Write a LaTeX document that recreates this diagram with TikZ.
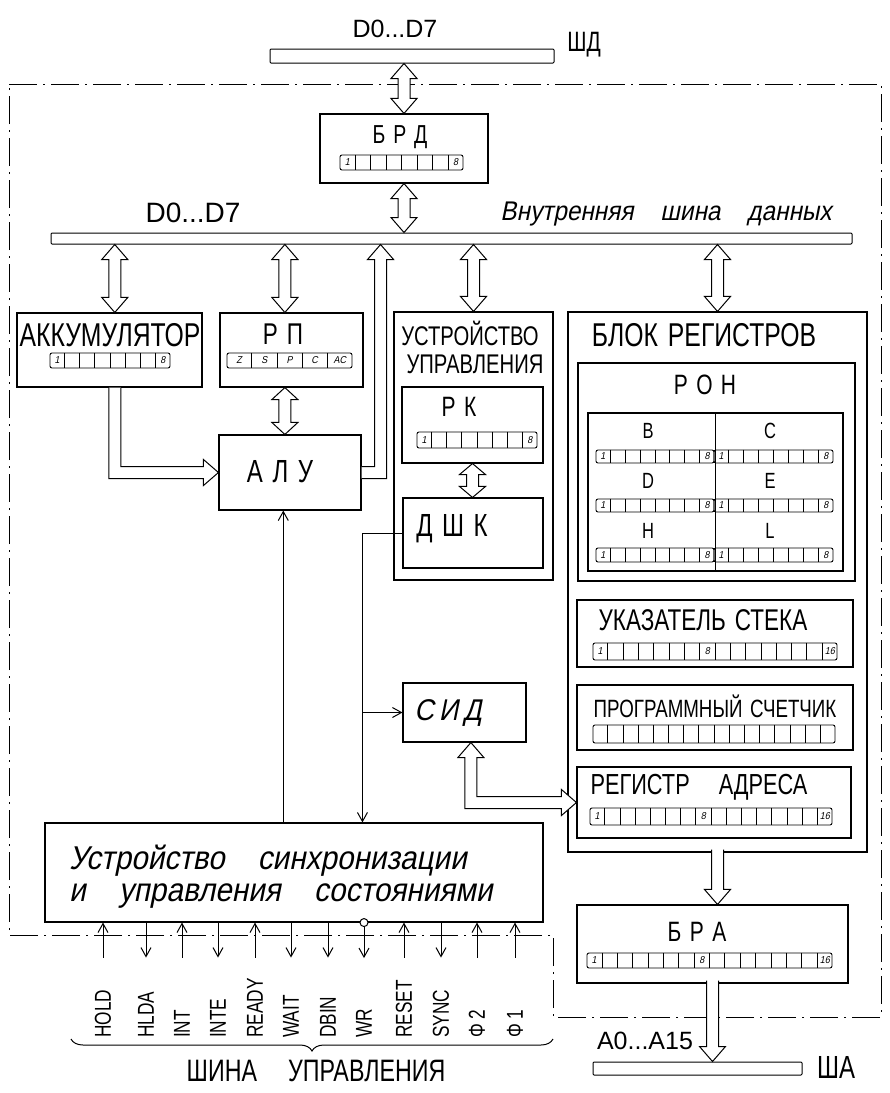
\documentclass[tikz,border=0pt]{standalone}
\usepackage{fontspec}
\setmainfont{Liberation Sans}
\newfontfamily\gost[FakeStretch=0.75]{Liberation Sans}
\newfontfamily\gostit[FakeStretch=0.9,FakeSlant=0.2]{Liberation Sans}
\usetikzlibrary{arrows.meta,calc,decorations.pathreplacing}

\newcommand{\ls}{\hspace{0.3em}}

% hollow double headed arrow, vertical (top, bottom)
\newcommand{\hollowud}[3][15pt]{%
  \draw[hollow] let \p1=(#2), \p2=(#3) in
    (\x1,\y1) -- (\x1+13pt,\y1-#1) -- (\x1+6pt,\y1-#1) -- (\x1+6pt,\y2+#1)
    -- (\x1+13pt,\y2+#1) -- (\x1,\y2) -- (\x1-13pt,\y2+#1) -- (\x1-6pt,\y2+#1)
    -- (\x1-6pt,\y1-#1) -- (\x1-13pt,\y1-#1) -- cycle;}

% hollow arrow going down, open at the top
\newcommand{\hollowdn}[2]{%
  \draw[hollow] let \p1=(#1), \p2=(#2) in
    (\x1-6pt,\y1+3pt) -- (\x1-6pt,\y2+15pt) -- (\x1-13pt,\y2+15pt) -- (\x1,\y2)
    -- (\x1+13pt,\y2+15pt) -- (\x1+6pt,\y2+15pt) -- (\x1+6pt,\y1+3pt);}

% register row: name, x1, y1, x2, y2, number of cells
\newcommand{\regcells}[6]{%
  \node[regrow, minimum width=#4-#2, minimum height=#5-#3] (#1) at ({(#2+#4)/2},{(#3+#5)/2}) {};
  \pgfmathtruncatemacro{\ncut}{#6-1}
  \foreach \k in {1,...,\ncut}
    \draw[cellline] ($(#1.north west)!{\k/#6}!(#1.north east)$) -- ($(#1.south west)!{\k/#6}!(#1.south east)$);}

% number in a cell: register, number of cells, cell, text
\newcommand{\cellnum}[4]{%
  \node[cellno] (#1n#3) at ($(#1.west)!{(#3-0.5)/#2}!(#1.east)$) {#4};}

\begin{document}
\begin{tikzpicture}[x=1pt, y=-1pt,
    box/.style ={rectangle, draw=black, line width=1.1pt, inner sep=0pt},
    bus/.style ={rectangle, draw=black, line width=1pt, rounded corners=1pt, inner sep=0pt},
    regrow/.style ={rectangle, draw=black, line width=0.9pt, rounded corners=2pt, inner sep=0pt},
    cellline/.style ={line width=0.8pt},
    cellno/.style ={font=\gostit\fontsize{10}{10}\selectfont, inner sep=0pt},
    caps/.style ={font=\gost\fontsize{#1}{#1}\selectfont, inner sep=0pt},
    txt/.style ={font=\fontsize{#1}{#1}\selectfont, inner sep=0pt},
    hand/.style ={font=\gostit\fontsize{#1}{#1}\selectfont, inner sep=0pt},
    siglab/.style ={font=\gost\fontsize{23}{23}\selectfont, rotate=90, anchor=west, inner sep=0pt},
    hollow/.style ={draw=black, fill=white, line width=1pt, line join=miter},
    line/.style ={draw, line width=1pt, -{Straight Barb[length=9pt, width=10pt]}},
    frame/.style ={draw, line width=1pt, dash pattern=on 28pt off 6pt on 2pt off 6pt}]

    \fill[white] (0,0) rectangle (890,1093);
    \useasboundingbox (0,0) rectangle (890,1093);

    % border of the processor
    \draw[frame] (9,84) -- (881,84) -- (881,1017) -- (553,1017) -- (553,935) -- (9,935) -- cycle;

    % Place nodes
    \node[bus, minimum width=284, minimum height=14] (topbar) at (412,56) {};
    \node[txt=25] (dtop) at (395,29) {D0...D7};
    \node[caps=28] (shd) at (584,45) {ШД};

    \node[box, minimum width=168, minimum height=69] (brd) at (404,148.5) {};
    \node[caps=26] (brdlab) at (400,137) {Б\ls Р\ls Д};
    \regcells{brdreg}{340}{155}{463}{170}{8}
    \cellnum{brdreg}{8}{1}{1} \cellnum{brdreg}{8}{8}{8}

    \node[bus, minimum width=801, minimum height=11] (intbus) at (451.5,238.5) {};
    \node[txt=28] (dint) at (193,213) {D0...D7};
    \node[hand=27] (busname) at (666,214) {Внутренняя\quad шина\quad данных};

    \node[box, minimum width=185, minimum height=74] (acc) at (109.5,350) {};
    \node[caps=33] (acclab) at (110,335) {АККУМУЛЯТОР};
    \regcells{accreg}{50}{353}{170}{368}{8}
    \cellnum{accreg}{8}{1}{1} \cellnum{accreg}{8}{8}{8}

    \node[box, minimum width=143, minimum height=74] (rp) at (291.5,350) {};
    \node[caps=30] (rplab) at (283,334) {Р\ls П};
    \regcells{rpreg}{227}{353}{352}{368}{5}
    \foreach \t [count=\c] in {Z,S,P,C,AC}
      \node[cellno] (rpc\c) at ($(rpreg.west)!{(\c-0.5)/5}!(rpreg.east)$) {\t};

    \node[box, minimum width=142, minimum height=75] (alu) at (290,472.5) {};
    \node[caps=32] (alulab) at (280,472) {А\ls Л\ls У};

    \node[box, minimum width=159, minimum height=268] (uu) at (473.5,446) {};
    \node[caps=27] (uulab1) at (470,333) {УСТРОЙСТВО};
    \node[caps=27] (uulab2) at (475,364) {УПРАВЛЕНИЯ};
    \node[box, minimum width=141, minimum height=76] (rk) at (472.5,425) {};
    \node[caps=28] (rklab) at (459,407) {Р\ls К};
    \regcells{rkreg}{417}{432}{537}{448}{8}
    \cellnum{rkreg}{8}{1}{1} \cellnum{rkreg}{8}{8}{8}
    \node[box, minimum width=140, minimum height=70] (dshk) at (473,533) {};
    \node[caps=32] (dshklab) at (452,529) {Д\ls Ш\ls К};

    \node[box, minimum width=123, minimum height=59] (sid) at (464.5,712.5) {};
    \node[hand=30] (sidlab) at (448,713) {С\,И\,Д};

    \node[box, minimum width=299, minimum height=540] (blok) at (717.5,582) {};
    \node[caps=33] (bloklab) at (704,335) {БЛОК\ls РЕГИСТРОВ};
    \node[box, minimum width=277, minimum height=218] (ron) at (716.5,472) {};
    \node[caps=28] (ronlab) at (705,385) {Р\ls О\ls Н};
    \node[box, minimum width=255, minimum height=158] (rongrid) at (715.5,492) {};
    \draw[cellline] (rongrid.north) -- (rongrid.south);
    \node[caps=22] (rb) at (648,431) {B};
    \node[caps=22] (rc) at (770,431) {C};
    \node[caps=22] (rd) at (648,481) {D};
    \node[caps=22] (re) at (770,481) {E};
    \node[caps=22] (rh) at (648,531) {H};
    \node[caps=22] (rl) at (770,531) {L};
    \regcells{regb}{596}{450}{714}{463}{8}
    \regcells{regc}{714}{450}{833}{463}{8}
    \regcells{regd}{596}{499}{714}{512}{8}
    \regcells{rege}{714}{499}{833}{512}{8}
    \regcells{regh}{596}{548}{714}{562}{8}
    \regcells{regl}{714}{548}{833}{562}{8}
    \foreach \r in {regb,regc,regd,rege,regh,regl} {
      \cellnum{\r}{8}{1}{1} \cellnum{\r}{8}{8}{8}
    }

    \node[box, minimum width=276, minimum height=67] (sp) at (715,633.5) {};
    \node[caps=30] (splab) at (703,620) {УКАЗАТЕЛЬ\ls СТЕКА};
    \regcells{spreg}{593}{643}{837}{660}{16}
    \cellnum{spreg}{16}{1}{1} \cellnum{spreg}{16}{8}{8} \cellnum{spreg}{16}{16}{16}

    \node[box, minimum width=276, minimum height=65] (pc) at (715,717.5) {};
    \node[caps=25] (pclab) at (715,706) {ПРОГРАММНЫЙ\ls СЧЕТЧИК};
    \regcells{pcreg}{593}{725}{835}{743}{16}

    \node[box, minimum width=274, minimum height=71] (ra) at (714,802.5) {};
    \node[caps=29] (ralab) at (699,787) {РЕГИСТР\quad АДРЕСА};
    \regcells{rareg}{590}{808}{832}{825}{16}
    \cellnum{rareg}{16}{1}{1} \cellnum{rareg}{16}{8}{8} \cellnum{rareg}{16}{16}{16}

    \node[box, minimum width=498, minimum height=99] (sync) at (294,872.5) {};
    \node[font=\gostit\fontsize{33}{32}\selectfont, align=left, anchor=west, inner sep=0pt] (synclab) at (69,877)
      {Устройство\quad синхронизации\\и\quad управления\quad состояниями};

    \node[box, minimum width=271, minimum height=78] (bra) at (712.5,944) {};
    \node[caps=28] (bralab) at (697,932) {Б\ls Р\ls А};
    \regcells{brareg}{587}{953}{832}{968}{16}
    \cellnum{brareg}{16}{1}{1} \cellnum{brareg}{16}{8}{8} \cellnum{brareg}{16}{16}{16}

    \node[bus, minimum width=209, minimum height=13] (shabar) at (697.5,1068.5) {};
    \node[txt=25] (alab) at (645,1041) {A0...A15};
    \node[caps=32] (shalab) at (836,1067) {ША};

    % control bus signals
    \foreach \x/\lab [count=\i] in {103/HOLD,146/HLDA,182/INT,218/INTE,255/READY,291/WAIT,
        328/DBIN,364/WR,404/RESET,441/SYNC,477/{Φ 2},515/{Φ 1}}
      \node[siglab] (sig\i) at (\x,1038) {\lab};
    \coordinate (bl) at (71,1039);
    \coordinate (br) at (553,1039);
    \draw[line width=1pt, decorate, decoration={brace, mirror, amplitude=12pt}] (bl) -- (br);
    \node[caps=31] (cbuslab) at (316,1071) {ШИНА\quad УПРАВЛЕНИЯ};

    % Drawing paths, data first
    \hollowud{topbar.south -| brd.north}{brd.north}
    \hollowud{brd.south}{intbus.north}
    \hollowud{intbus.south -| acc.82}{acc.82}
    \hollowud{intbus.south -| rp.100}{rp.100}
    \hollowud{intbus.south -| uu.north}{uu.north}
    \hollowud{intbus.south -| blok.north}{blok.north}
    \hollowud[12pt]{rp.-100}{alu.north}
    \hollowud[11pt]{rk.south}{dshk.north}

    % alu result back to the bus
    \draw[hollow] let \p1=(alu.east), \p2=(intbus.south) in
      (\x1,\y1+6pt) -- (\x1+13pt,\y1+6pt) -- (\x1+13pt,\y2-15pt) -- (\x1+6pt,\y2-15pt)
      -- (\x1+19pt,\y2) -- (\x1+32pt,\y2-15pt) -- (\x1+25pt,\y2-15pt) -- (\x1+25pt,\y1-6pt)
      -- (\x1,\y1-6pt);
    % accumulator into the alu
    \draw[hollow] let \p1=(acc.-82), \p2=(alu.west) in
      (\x1-6pt,\y1) -- (\x1-6pt,\y2-6pt) -- (\x2-15pt,\y2-6pt) -- (\x2-15pt,\y2-13pt)
      -- (\x2,\y2) -- (\x2-15pt,\y2+13pt) -- (\x2-15pt,\y2+6pt) -- (\x1+6pt,\y2+6pt)
      -- (\x1+6pt,\y1);
    % sid and address register
    \draw[hollow] let \p1=(sid.-78), \p2=(ra.west) in
      (\x1,\y1) -- (\x1+13pt,\y1-15pt) -- (\x1+6pt,\y1-15pt) -- (\x1+6pt,\y2+6pt)
      -- (\x2-15pt,\y2+6pt) -- (\x2-15pt,\y2+13pt) -- (\x2,\y2) -- (\x2-15pt,\y2-13pt)
      -- (\x2-15pt,\y2-6pt) -- (\x1-6pt,\y2-6pt) -- (\x1-6pt,\y1-15pt) -- (\x1-13pt,\y1-15pt)
      -- cycle;
    \hollowdn{blok.south}{bra.north}
    \hollowdn{bra.south}{shabar.north}

    % control lines
    \draw[line] (sync.north -| alu.-100) -- (alu.-100);
    \draw[line width=1pt] (dshk.west) -- ++(-40,0) coordinate (dk);
    \draw[line] (dk) -- (dk |- sync.north);
    \draw[line] (dk |- sid.west) -- (sid.west);

    % signal arrows, in and out
    \foreach \i in {1,3,5,9,11,12}
      \draw[line] ($(sync.south -| sig\i.east)+(0,35)$) -- (sync.south -| sig\i.east);
    \foreach \i in {2,4,6,7,10}
      \draw[line] (sync.south -| sig\i.east) -- ++(0,35);
    \node[circle, draw, line width=1pt, fill=white, minimum size=8pt, inner sep=0pt] (wrdot) at (sync.south -| sig8.east) {};
    \draw[line] (wrdot.south) -- ++(0,31);

\end{tikzpicture}
\end{document}
